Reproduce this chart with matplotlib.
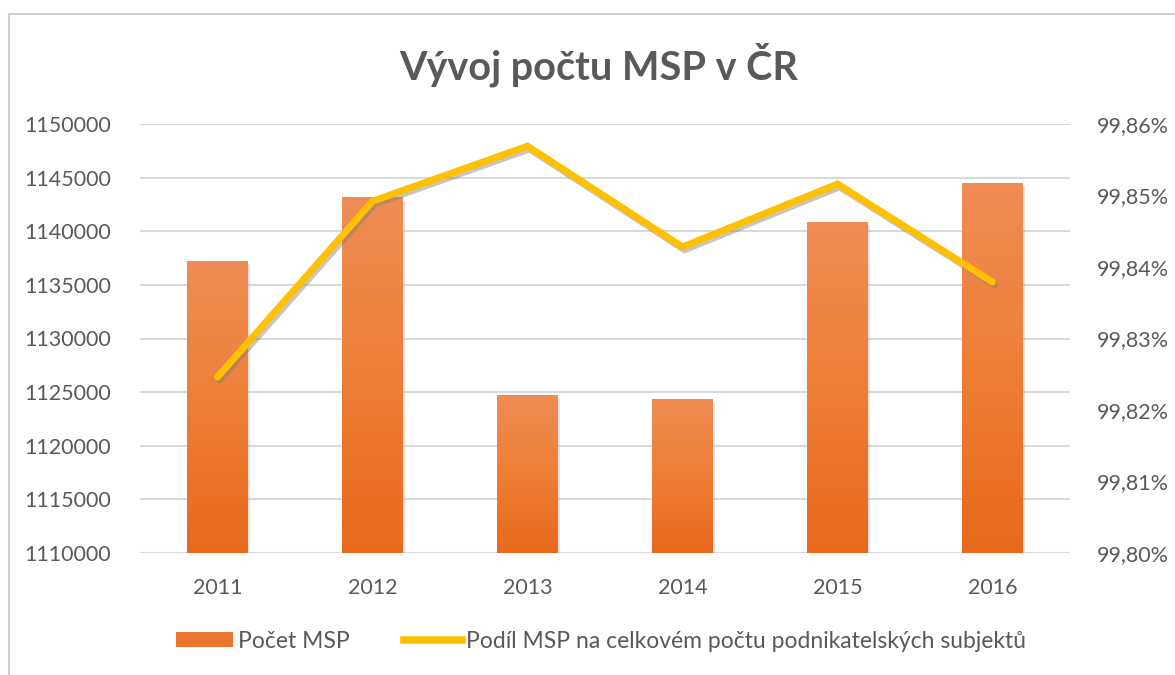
import matplotlib
matplotlib.use("Agg")
import matplotlib.pyplot as plt
import matplotlib.patheffects as pe
from matplotlib.colors import LinearSegmentedColormap
from matplotlib.patches import Patch, Rectangle
from matplotlib.lines import Line2D
from matplotlib.ticker import FuncFormatter
import numpy as np

years = ["2011", "2012", "2013", "2014", "2015", "2016"]
pocet_msp = [1137220, 1143150, 1124690, 1124320, 1140840, 1144500]
podil_msp = [99.8246, 99.8492, 99.8569, 99.8428, 99.8516, 99.8379]

left_ticks = [1110000, 1115000, 1120000, 1125000, 1130000, 1135000, 1140000, 1145000, 1150000]
right_ticks = [99.80, 99.81, 99.82, 99.83, 99.84, 99.85, 99.86]

W, H = 1175, 675
plt.rcParams['font.family'] = ['Lato', 'DejaVu Sans']
fig = plt.figure(figsize=(W / 100, H / 100), dpi=100)
fig.patch.set_facecolor('white')

text_col = '#595959'
grid_col = '#d9d9d9'

# chart border
fig.add_artist(Rectangle((9 / W, -0.05), 1.2, 1 - 14 / H + 0.05, transform=fig.transFigure,
                         fill=False, edgecolor='#d0d0d0', linewidth=1.5))

ax_l, ax_r, ax_t, ax_b = 140 / W, 1070 / W, 1 - 124 / H, 1 - 553 / H
ax = fig.add_axes([ax_l, ax_b, ax_r - ax_l, ax_t - ax_b])
ax2 = ax.twinx()

x = np.arange(len(years))
ymin, ymax = left_ticks[0], left_ticks[-1]
bars = ax.bar(x, pocet_msp, width=0.39, color='#ED7D31', zorder=2, linewidth=0)

cmap = LinearSegmentedColormap.from_list('og', ['#E8691C', '#EE7E35', '#F08D55'])
grad = np.linspace(0, 1, 256).reshape(-1, 1)
for b in bars:
    bx, bw, top = b.get_x(), b.get_width(), b.get_height()
    # shadow
    ax.add_patch(Rectangle((bx + 0.012, ymin), bw, top - ymin - 300, facecolor='#b0b0b0',
                           alpha=0.35, zorder=1.5, linewidth=0))
    im = ax.imshow(grad, extent=[bx, bx + bw, ymin, top], aspect='auto', cmap=cmap,
                   origin='lower', zorder=2.1)
    im.set_clip_path(b)

ax.set_xlim(-0.5, len(years) - 0.5)
ax.set_ylim(ymin, ymax)
ax.set_yticks(left_ticks)
ax.set_yticklabels([str(t) for t in left_ticks])
ax.set_xticks(x)
ax.set_xticklabels(years)
ax.set_axisbelow(True)
ax.grid(axis='y', color=grid_col, linewidth=1.5)
ax.grid(axis='x', visible=False)
for s in ax.spines.values():
    s.set_visible(False)
for s in ax2.spines.values():
    s.set_visible(False)
ax.tick_params(axis='both', length=0, labelsize=15.5, colors=text_col)
ax.tick_params(axis='y', pad=21)
ax.tick_params(axis='x', pad=18)

ax2.plot(x, podil_msp, color='#FFC000', linewidth=5, solid_capstyle='round', solid_joinstyle='miter',
         zorder=3, path_effects=[pe.SimpleLineShadow(offset=(1.5, -2), shadow_color='#808080', alpha=0.45),
                                 pe.Normal()])
ax2.set_ylim(right_ticks[0], right_ticks[-1])
ax2.set_yticks(right_ticks)
ax2.yaxis.set_major_formatter(FuncFormatter(lambda v, p: f"{v:.2f}%".replace('.', ',')))
ax2.tick_params(axis='y', length=0, labelsize=15.5, colors=text_col, pad=19)

fig.text(599 / W, 1 - 65 / H, "Vývoj počtu MSP v ČR", ha='center', va='center',
         fontsize=28.5, fontweight='bold', color='#595959')

handles = [Patch(facecolor='#EC7630', edgecolor='none'),
           Line2D([0], [0], color='#FFC000', linewidth=5.5)]
fig.legend(handles, ["Počet MSP", "Podíl MSP na celkovém počtu podnikatelských subjektů"],
           loc='center', bbox_to_anchor=(601 / W, 1 - 641 / H), ncol=2, frameon=False,
           fontsize=16.5, labelcolor=text_col, handlelength=2.5, handleheight=0.6,
           handletextpad=0.2, columnspacing=2.4)

fig.savefig("out.png", dpi=100)
